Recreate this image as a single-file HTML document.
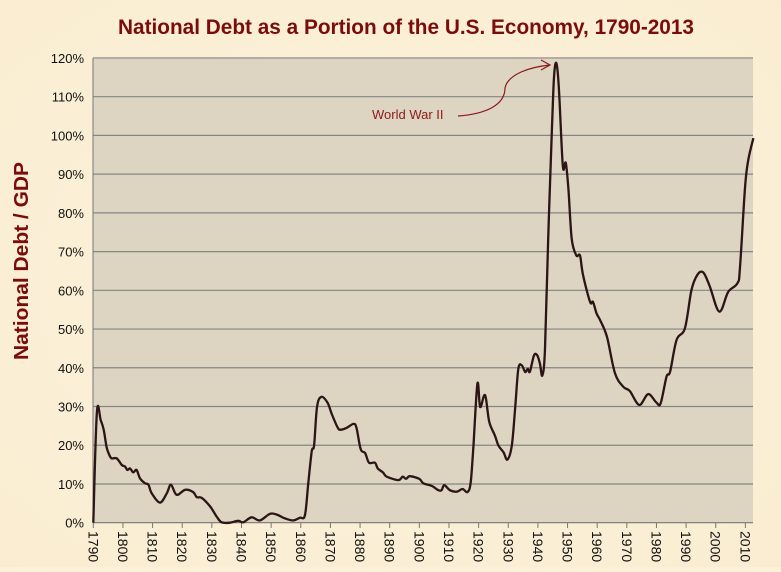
<!DOCTYPE html>
<html><head><meta charset="utf-8"><style>
html,body{margin:0;padding:0;}
body{width:781px;height:567px;overflow:hidden;background:#fbf0d8;font-family:"Liberation Sans",sans-serif;}
</style></head><body>
<svg width="781" height="567" xmlns="http://www.w3.org/2000/svg">
<defs>
<radialGradient id="bg" cx="50%" cy="50%" r="75%"><stop offset="0" stop-color="#fdf4de"/><stop offset="1" stop-color="#f9ecd0"/></radialGradient>
</defs>
<rect width="781" height="567" fill="url(#bg)"/>
<text x="406" y="34" text-anchor="middle" font-size="21" font-weight="bold" fill="#7a0c0c" textLength="576" lengthAdjust="spacingAndGlyphs">National Debt as a Portion of the U.S. Economy, 1790-2013</text>
<text transform="translate(28,261) rotate(-90)" text-anchor="middle" font-size="20" font-weight="bold" fill="#7a0c0c" textLength="198" lengthAdjust="spacingAndGlyphs">National Debt / GDP</text>
<rect x="93" y="58" width="660" height="465" fill="#ddd5c2"/>
<g id="grid"></g>
<g id="yticks"></g>
<g id="xticks"></g>
<path id="line" fill="none" stroke="#2b1515" stroke-width="2.3" stroke-linejoin="round"/>
<text x="372" y="119" font-size="13" fill="#8b1a1a">World War II</text>
<path d="M458,116 C486,114 505,105 505,88 C508,74 530,67 550,65" fill="none" stroke="#8b1a1a" stroke-width="1.2"/>
<path d="M541,60 L550,65 L541,70" fill="none" stroke="#8b1a1a" stroke-width="1.2"/>
</svg>
<script>
const yTicks = [0,10,20,30,40,50,60,70,80,90,100,110,120];
const xTickYears = [1790,1800,1810,1820,1830,1840,1850,1860,1870,1880,1890,1900,1910,1920,1930,1940,1950,1960,1970,1980,1990,2000,2010];
const years = [1790,1791.2,1792.5,1793.5,1794.5,1795.4,1796.2,1797.9,1799.6,1800.7,1801.5,1802.4,1803.5,1804.6,1805.8,1807.4,1808.6,1809.7,1812.5,1814.8,1816.2,1818.1,1821,1823.7,1824.9,1826.6,1829.4,1831.6,1833.3,1836.1,1838.9,1840.6,1843.4,1846.2,1849.6,1851.9,1854.7,1857.5,1859.7,1861.4,1862.5,1863.7,1864.5,1865.5,1867,1869,1870.5,1872.5,1873.5,1875.5,1877.8,1878.8,1880.2,1881.7,1883,1885,1886,1887.7,1889,1892.9,1894.4,1895.5,1896.8,1900,1901.3,1904.2,1906.4,1907.5,1908.4,1910.3,1912.6,1914.6,1916.2,1917.3,1918.2,1919.6,1920.5,1921.8,1922.5,1923.6,1925.5,1926.7,1928.4,1929.7,1931.2,1932.3,1933.4,1934.6,1935.7,1936.6,1937.3,1938.7,1939.8,1940.7,1941.5,1942.4,1943.5,1944.7,1945.4,1946.2,1947.1,1948.4,1949.4,1950.3,1951.4,1953,1954.2,1955.2,1957.6,1958.6,1959.8,1961,1963.3,1966,1968.8,1971,1974.2,1977.2,1980,1981.4,1983.4,1984.6,1986.8,1989.6,1991.8,1993.8,1995.8,1998,2001.2,2004.2,2007.3,2008.2,2009.9,2011,2012.7];
const debt = [0,28.5,26.5,24,19.5,17.5,16.6,16.6,14.9,14.5,13.6,14,13,13.6,11.4,10.2,9.8,7.6,5.2,7.6,9.8,7.2,8.5,7.9,6.6,6.4,4.2,1.6,0.1,0,0.5,0.1,1.4,0.6,2.3,2.1,1.1,0.6,1.3,1.9,10,18.4,20,30,32.5,31,28,24.5,24,24.5,25.5,24.5,19,18,15.5,15.5,14,13,11.9,11,11.9,11.3,12,11.3,10.2,9.5,8.4,8.4,9.7,8.4,8,8.7,7.9,10.2,19.2,35.9,29.9,32.8,32,26,22.5,19.9,18.2,16.3,19.9,29.4,39.7,40.6,38.9,39.7,39,43.2,43.2,41,38,44.9,74.2,100.8,114.6,118.7,112,92.2,92.9,86.2,73.3,69,69,64,57,57,54,52.3,48,38.6,35.1,34,30.4,33.2,31,30.8,37.7,39,47.2,50.2,60,64,64.6,61,54.5,59.6,61.8,66,86.8,93.7,99.3];
const X0=93.3, PX=2.964, Y0=522.7, PY=3.873;
const xs = y => X0 + (y-1790)*PX;
const ys = v => Y0 - v*PY;
const NS="http://www.w3.org/2000/svg";
const grid=document.getElementById('grid'), yt=document.getElementById('yticks'), xt=document.getElementById('xticks');
yTicks.forEach(v=>{
  const l=document.createElementNS(NS,'line');
  l.setAttribute('x1',93);l.setAttribute('x2',753);l.setAttribute('y1',ys(v));l.setAttribute('y2',ys(v));
  l.setAttribute('stroke', v===0?'#777':'#858585');l.setAttribute('stroke-width',1.2);
  
  
  grid.appendChild(l);
  const t=document.createElementNS(NS,'text');
  t.setAttribute('x',84);t.setAttribute('y',ys(v)+5);t.setAttribute('text-anchor','end');t.setAttribute('font-size','13');t.setAttribute('fill','#111');
  t.textContent=v+'%';
  
  
  yt.appendChild(t);
});
const ax=document.createElementNS(NS,'line');
ax.setAttribute('x1',93);ax.setAttribute('x2',93);ax.setAttribute('y1',58);ax.setAttribute('y2',523);ax.setAttribute('stroke','#777');


yt.appendChild(ax);
xTickYears.forEach(yr=>{
  const x=xs(yr);
  const l=document.createElementNS(NS,'line');
  l.setAttribute('x1',x);l.setAttribute('x2',x);l.setAttribute('y1',523);l.setAttribute('y2',528);l.setAttribute('stroke','#777');
  
  
  xt.appendChild(l);
  const t=document.createElementNS(NS,'text');
  t.setAttribute('transform','translate('+(x-5)+',531) rotate(90)');
  t.setAttribute('font-size','14');t.setAttribute('fill','#111');
  t.textContent=yr;
  
  
  xt.appendChild(t);
});
const pts=years.map((y,i)=>[xs(y),ys(debt[i])]);
let d='M'+pts[0][0].toFixed(1)+','+pts[0][1].toFixed(1);
for(let i=0;i<pts.length-1;i++){
  const p0=pts[Math.max(0,i-1)],p1=pts[i],p2=pts[i+1],p3=pts[Math.min(pts.length-1,i+2)];
  const k=1/6;
  const c1=[p1[0]+(p2[0]-p0[0])*k,p1[1]+(p2[1]-p0[1])*k];
  const c2=[p2[0]-(p3[0]-p1[0])*k,p2[1]-(p3[1]-p1[1])*k];
  d+=' C'+c1[0].toFixed(1)+','+c1[1].toFixed(1)+' '+c2[0].toFixed(1)+','+c2[1].toFixed(1)+' '+p2[0].toFixed(1)+','+p2[1].toFixed(1);
}
document.getElementById('line').setAttribute('d',d);
</script>
</body></html>
